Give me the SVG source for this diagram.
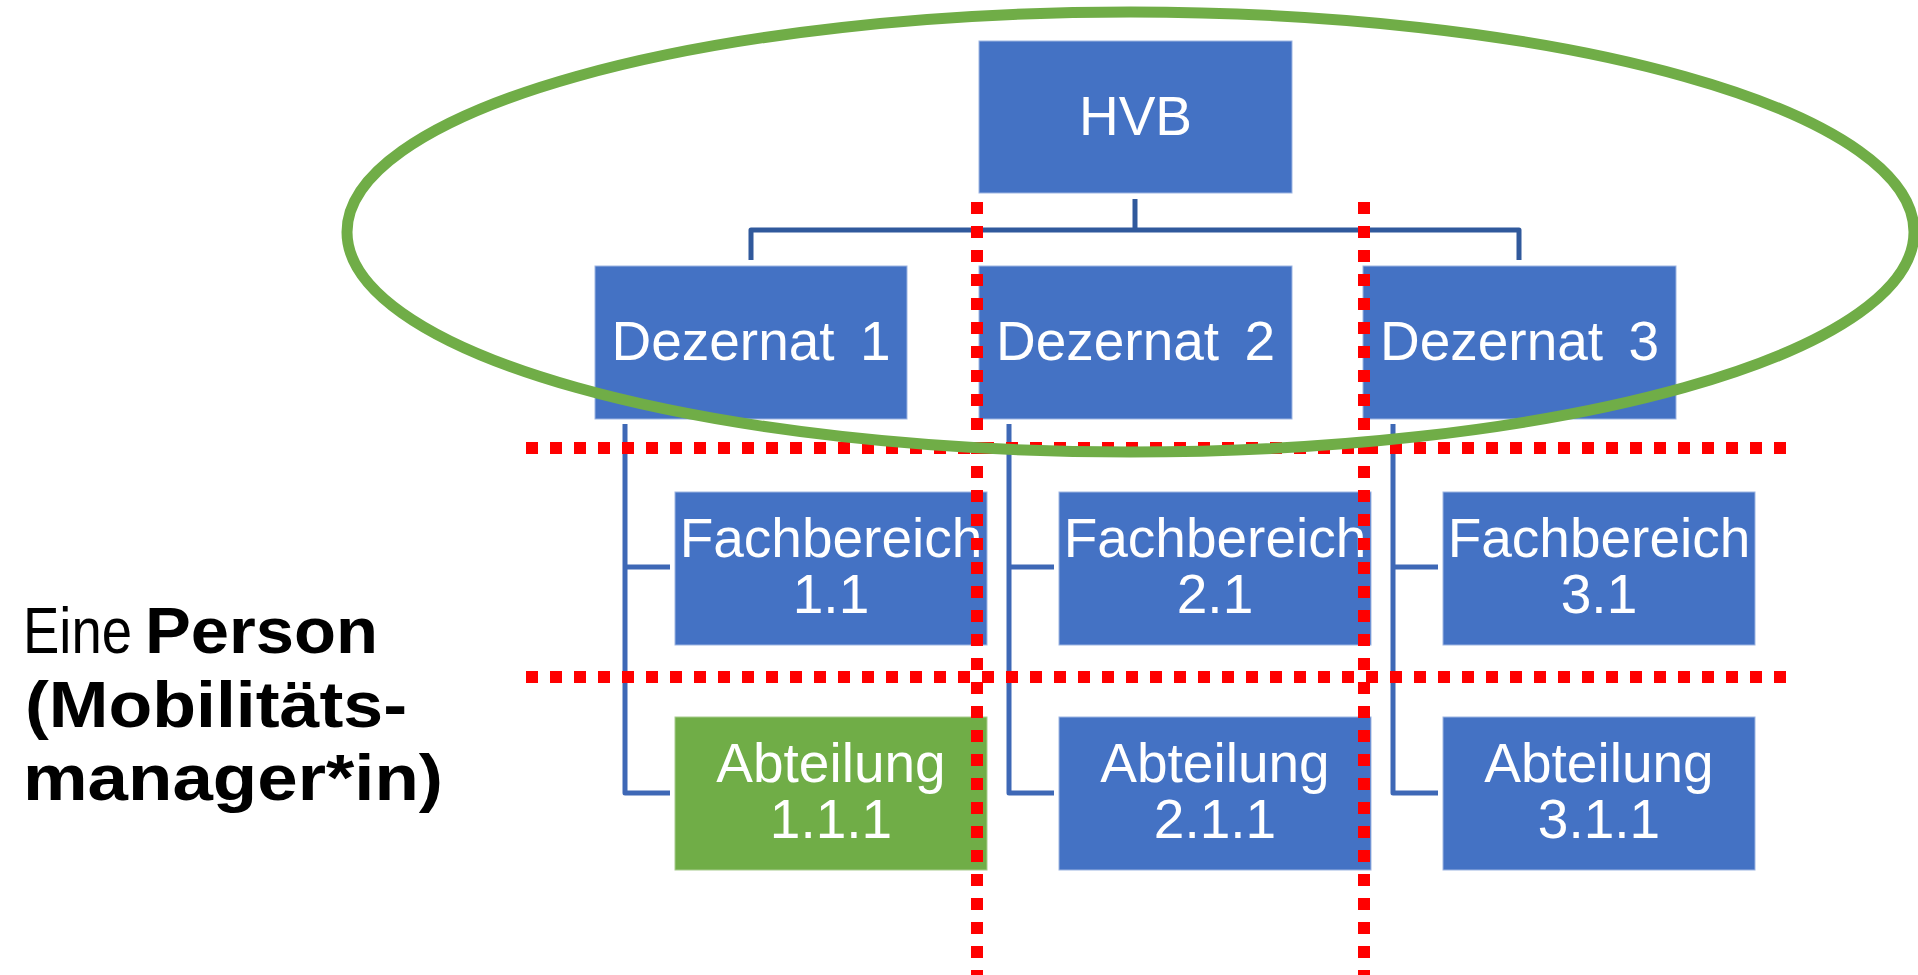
<svg xmlns="http://www.w3.org/2000/svg" width="1918" height="975" viewBox="0 0 1918 975">
<style>
.box{fill:#4472C4;stroke:#9DB5E2;stroke-width:1}
.boxg{fill:#70AD47;stroke:#A8CC8E;stroke-width:1}
.lbl{font-family:"Liberation Sans",Arial,sans-serif;font-size:55px;fill:#FFFFFF;text-anchor:middle}
.dz{word-spacing:10px}
.top{fill:none;stroke:#30599C;stroke-width:5;stroke-linejoin:round}
.col{fill:none;stroke:#3E68B6;stroke-width:5;stroke-linejoin:round}
.red{fill:none;stroke:#FF0000;stroke-width:12;stroke-dasharray:12 12}
.side{font-family:"Liberation Sans",Arial,sans-serif;font-size:65px;fill:#000000}
</style>
<rect width="1918" height="975" fill="#FFFFFF"/>
<g id="connectors">
  <path class="top" d="M1135 199 V230"/>
  <path class="top" d="M751 260 V230 H1519 V260"/>
  <path class="col" d="M625 424 V793 H670 M625 567 H670"/>
  <path class="col" d="M1009 424 V793 H1054 M1009 567 H1054"/>
  <path class="col" d="M1393 424 V793 H1438 M1393 567 H1438"/>
</g>
<g id="hvb"><rect class="box" x="979" y="41" width="313" height="152"/><text class="lbl" x="1135.5" y="135">HVB</text></g>
<g id="dezernat1"><rect class="box" x="595" y="266" width="312" height="153"/><text class="lbl dz" x="751" y="360">Dezernat 1</text></g>
<g id="dezernat2"><rect class="box" x="979" y="266" width="313" height="153"/><text class="lbl dz" x="1135.5" y="360">Dezernat 2</text></g>
<g id="dezernat3"><rect class="box" x="1363" y="266" width="313" height="153"/><text class="lbl dz" x="1519.5" y="360">Dezernat 3</text></g>
<g id="fachbereich11"><rect class="box" x="675" y="492" width="312" height="153"/><text class="lbl" x="831" y="557">Fachbereich</text><text class="lbl" x="831" y="613">1.1</text></g>
<g id="fachbereich21"><rect class="box" x="1059" y="492" width="312" height="153"/><text class="lbl" x="1215" y="557">Fachbereich</text><text class="lbl" x="1215" y="613">2.1</text></g>
<g id="fachbereich31"><rect class="box" x="1443" y="492" width="312" height="153"/><text class="lbl" x="1599" y="557">Fachbereich</text><text class="lbl" x="1599" y="613">3.1</text></g>
<g id="abteilung111"><rect class="boxg" x="675" y="717" width="312" height="153"/><text class="lbl" x="831" y="782">Abteilung</text><text class="lbl" x="831" y="838">1.1.1</text></g>
<g id="abteilung211"><rect class="box" x="1059" y="717" width="312" height="153"/><text class="lbl" x="1215" y="782">Abteilung</text><text class="lbl" x="1215" y="838">2.1.1</text></g>
<g id="abteilung311"><rect class="box" x="1443" y="717" width="312" height="153"/><text class="lbl" x="1599" y="782">Abteilung</text><text class="lbl" x="1599" y="838">3.1.1</text></g>
<g id="grid">
  <path class="red" d="M526 448 H1790"/>
  <path class="red" d="M526 677 H1790"/>
  <path class="red" d="M977 202 V975"/>
  <path class="red" d="M1364 202 V975"/>
</g>
<ellipse id="highlight" cx="1130.5" cy="232" rx="783.5" ry="220" fill="none" stroke="#70AD47" stroke-width="11"/>
<g id="note">
  <text class="side" x="23" y="653" textLength="109" lengthAdjust="spacingAndGlyphs">Eine</text>
  <text class="side" x="145" y="653" font-weight="700" textLength="233" lengthAdjust="spacingAndGlyphs">Person</text>
  <text class="side" x="25" y="727" font-weight="700" textLength="382" lengthAdjust="spacingAndGlyphs">(Mobilitäts-</text>
  <text class="side" x="23" y="800" font-weight="700" textLength="420" lengthAdjust="spacingAndGlyphs">manager*in)</text>
</g>
</svg>
